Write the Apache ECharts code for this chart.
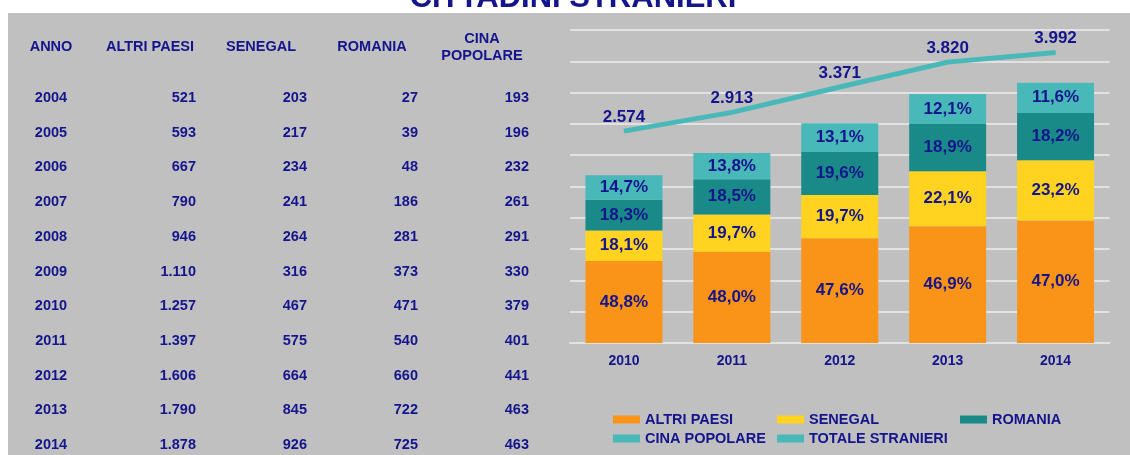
<!DOCTYPE html>
<html>
<head>
<meta charset="utf-8">
<script src="https://cdn.jsdelivr.net/npm/echarts@6/dist/echarts.min.js"></script>
<style>
html,body{margin:0;padding:0;background:#ffffff;}
#chart{width:1130px;height:455px;}
</style>
</head>
<body>
<div id="chart"></div>
<script>
// ---- data ----
const tableHeaders = ['ANNO', 'ALTRI PAESI', 'SENEGAL', 'ROMANIA', 'CINA\nPOPOLARE'];
const tableYears = ['2004','2005','2006','2007','2008','2009','2010','2011','2012','2013','2014'];
const altriPaesi = [521, 593, 667, 790, 946, 1110, 1257, 1397, 1606, 1790, 1878];
const senegal    = [203, 217, 234, 241, 264, 316, 467, 575, 664, 845, 926];
const romania    = [27, 39, 48, 186, 281, 373, 471, 540, 660, 722, 725];
const cinaPop    = [193, 196, 232, 261, 291, 330, 379, 401, 441, 463, 463];

const chartYears = ['2010', '2011', '2012', '2013', '2014'];
const totaleStranieri = [2574, 2913, 3371, 3820, 3992];
const seriesNames = ['ALTRI PAESI', 'SENEGAL', 'ROMANIA', 'CINA POPOLARE', 'TOTALE STRANIERI'];

// ---- styles ----
const NAVY = '#14148c';
const FONT = '"Liberation Sans", Arial, sans-serif';
const colors = ['#fa9418', '#ffd320', '#1a8a88', '#48b8b8', '#48b8b8'];

function fmtThousands(n) {
  return String(n).replace(/\B(?=(\d{3})+(?!\d))/g, '.');
}

const first = tableYears.indexOf(chartYears[0]);
const barData = [altriPaesi, senegal, romania, cinaPop].map(a => a.slice(first));

// ---- table as graphic text ----
const colX = [51, 196, 307, 418, 529];
const headX = [51, 150, 261, 372, 482];
const rowY0 = 98, rowStep = 34.7;
const graphics = [];
graphics.push({type:'rect', shape:{x:8, y:13, width:1122, height:442}, style:{fill:'#c0c0c0'}, z:-10});
graphics.push({type:'text', style:{text:'CITTADINI STRANIERI', x:573, y:-1.5, fill:NAVY,
  font:'bold 31px ' + FONT, align:'center', verticalAlign:'middle', textAlign:'center', textVerticalAlign:'middle'}});
tableHeaders.forEach((h, i) => {
  graphics.push({type:'text', style:{text:h, x:headX[i], y:47, fill:NAVY,
    font:'bold 14.5px ' + FONT, lineHeight:17, align:'center', verticalAlign:'middle', textAlign:'center', textVerticalAlign:'middle'}});
});
const cols = [altriPaesi, senegal, romania, cinaPop];
tableYears.forEach((y, r) => {
  const yy = rowY0 + r * rowStep;
  graphics.push({type:'text', style:{text:y, x:colX[0], y:yy, fill:NAVY,
    font:'bold 14.5px ' + FONT, align:'center', verticalAlign:'middle', textAlign:'center', textVerticalAlign:'middle'}});
  cols.forEach((c, j) => {
    graphics.push({type:'text', style:{text:fmtThousands(c[r]), x:colX[j+1], y:yy, fill:NAVY,
      font:'bold 14.5px ' + FONT, align:'right', verticalAlign:'middle', textAlign:'right', textVerticalAlign:'middle'}});
  });
});

// ---- series ----
const series = barData.map((d, i) => ({
  name: seriesNames[i],
  type: 'bar',
  stack: 'tot',
  barWidth: 77,
  data: d,
  itemStyle: {color: colors[i]},
  label: {
    show: true, position: 'inside', color: NAVY, fontWeight: 'bold', fontSize: 17, fontFamily: FONT,
    formatter: p => (p.value / totaleStranieri[p.dataIndex] * 100).toFixed(1).replace('.', ',') + '%'
  }
}));
series.push({
  name: seriesNames[4],
  type: 'line',
  yAxisIndex: 1,
  data: totaleStranieri,
  symbol: 'circle',
  symbolSize: 1,
  lineStyle: {color: colors[4], width: 5},
  itemStyle: {color: colors[4]},
  label: {show: true, position: 'top', distance: 5, color: NAVY, fontWeight: 'bold', fontSize: 17, fontFamily: FONT,
    formatter: p => fmtThousands(p.value)},
  z: 5
});

function legendAt(name, left, top) {
  return {data:[name], left:left, top:top, padding:0, itemWidth:27, itemHeight:8, icon:'rect',
    selectedMode:false, textStyle:{color:NAVY, fontWeight:'bold', fontSize:14.5, fontFamily:FONT}};
}

const option = {
  animation: false,
  textStyle: {fontFamily: FONT},
  grid: {left: 570, right: 20.5, top: 30, bottom: 112},
  xAxis: {
    type: 'category', data: chartYears,
    axisLine: {lineStyle: {color: '#e2e2e2', width: 2}},
    axisTick: {show: false},
    axisLabel: {color: NAVY, fontWeight: 'bold', fontSize: 14, fontFamily: FONT, margin: 11}
  },
  yAxis: [
    {type: 'value', min: 0, max: 4800, interval: 480,
     axisLabel: {show: false}, axisLine: {show: false}, axisTick: {show: false},
     splitLine: {lineStyle: {color: '#e2e2e2', width: 2}}},
    {type: 'value', min: -1250, max: 4400, show: false, splitLine: {show: false}}
  ],
  legend: [
    legendAt(seriesNames[0], 613, 412),
    legendAt(seriesNames[1], 777, 412),
    legendAt(seriesNames[2], 960, 412),
    legendAt(seriesNames[3], 613, 431),
    legendAt(seriesNames[4], 777, 431)
  ],
  graphic: graphics,
  series: series
};

const chart = echarts.init(document.getElementById('chart'), null, {renderer: 'canvas'});
chart.setOption(option);
</script>
</body>
</html>
